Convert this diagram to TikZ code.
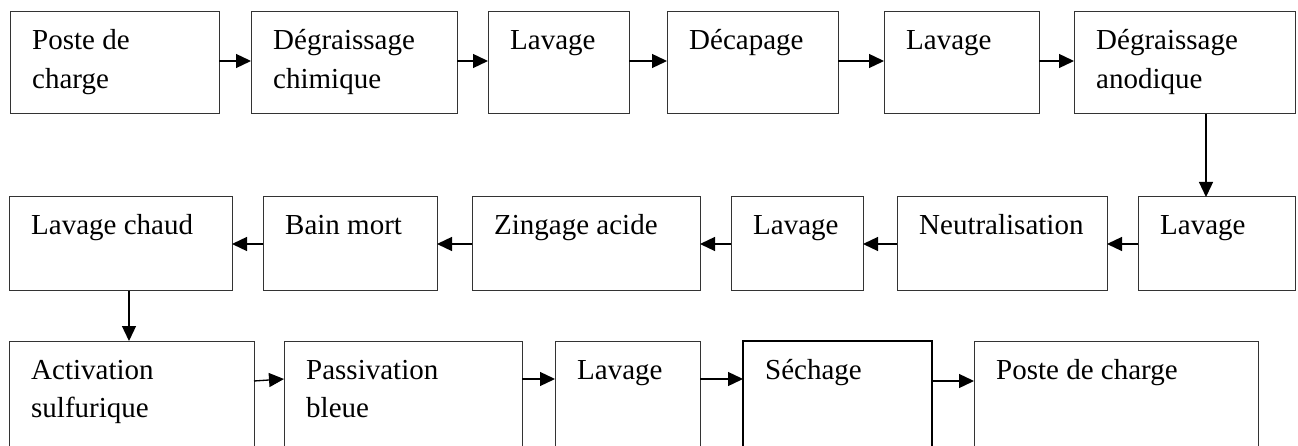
\documentclass[tikz,border=0pt]{standalone}
\usepackage{fontspec}
\setmainfont{Liberation Serif}
\usetikzlibrary{calc,arrows.meta}
\tikzset{
  stagebox/.style={draw=black!80, line width=1pt, inner sep=0pt, outer sep=0pt},
  stagetext/.style={anchor=base west, inner sep=0pt,
    font=\fontsize{29}{38.5}\selectfont},
  flow/.style={line width=1.3pt, -{Triangle[length=15pt,width=14pt]}},
}
% \stage[extra style]{name}{left}{top}{right}{bottom}{label}
\newcommand\stage[7][]{%
  \node[stagebox, minimum width={#5-#3}, minimum height={#6-#4}, #1]
    (#2) at ({(#3+#5)/2},{(#4+#6)/2}) {};
  \node[stagetext] (#2-t) at ($(#2.north west)+(22,38)$)
    {\begin{tabular}[t]{@{}l@{}}#7\end{tabular}};
}
\begin{document}
\begin{tikzpicture}[x=1pt,y=-1pt]
\clip (0,0) rectangle (1298,446);
\fill[white] (0,0) rectangle (1298,446);

% first row, left to right
\stage{a1}{10}{12}{219}{114}{Poste de\\charge}
\stage{a2}{251}{12}{457}{114}{Dégraissage\\chimique}
\stage{a3}{488}{12}{629}{114}{Lavage}
\stage{a4}{667}{12}{838}{114}{Décapage}
\stage{a5}{884}{12}{1039}{114}{Lavage}
\stage{a6}{1074}{12}{1295}{114}{Dégraissage\\anodique}

% second row, right to left
\stage{b6}{1138}{197}{1295}{291}{Lavage}
\stage{b5}{897}{197}{1107}{291}{Neutralisation}
\stage{b4}{731}{197}{863}{291}{Lavage}
\stage{b3}{472}{197}{700}{291}{Zingage acide}
\stage{b2}{263}{197}{437}{291}{Bain mort}
\stage{b1}{9}{197}{232}{291}{Lavage chaud}

% third row, left to right
\stage{c1}{9}{341}{254}{470}{Activation\\sulfurique}
\stage{c2}{284}{341}{522}{470}{Passivation\\bleue}
\stage{c3}{555}{341}{700}{470}{Lavage}
\stage[draw=black, line width=1.6pt]{c4}{743}{341}{932}{470}{Séchage}
\stage{c5}{974}{341}{1258}{470}{Poste de charge}

% connectors, first row
\foreach \u/\v in {a1/a2, a2/a3, a3/a4, a4/a5, a5/a6}
  \draw[flow] ([yshift=2pt]\u.east) -- ([yshift=2pt]\v.west);
\draw[flow] ([xshift=21.5pt]a6.south) -- ([xshift=21.5pt]a6.south |- b6.north);

% connectors, second row
\foreach \u/\v in {b6/b5, b5/b4, b4/b3, b3/b2, b2/b1}
  \draw[flow] (\u.west) -- (\v.east);
\draw[flow] ([xshift=8.5pt]b1.south) -- ([xshift=8.5pt]b1.south |- c1.north);

% connectors, third row
\draw[flow] ([yshift=-40pt]c1.north east) -- ([yshift=-38pt]c2.north west);
\draw[flow] ([yshift=-38pt]c2.north east) -- ([yshift=-38pt]c3.north west);
\draw[flow] ([yshift=-38pt]c3.north east) -- ([yshift=-38pt]c4.north west);
\draw[flow] ([yshift=-40pt]c4.north east) -- ([yshift=-40pt]c5.north west);
\end{tikzpicture}
\end{document}
